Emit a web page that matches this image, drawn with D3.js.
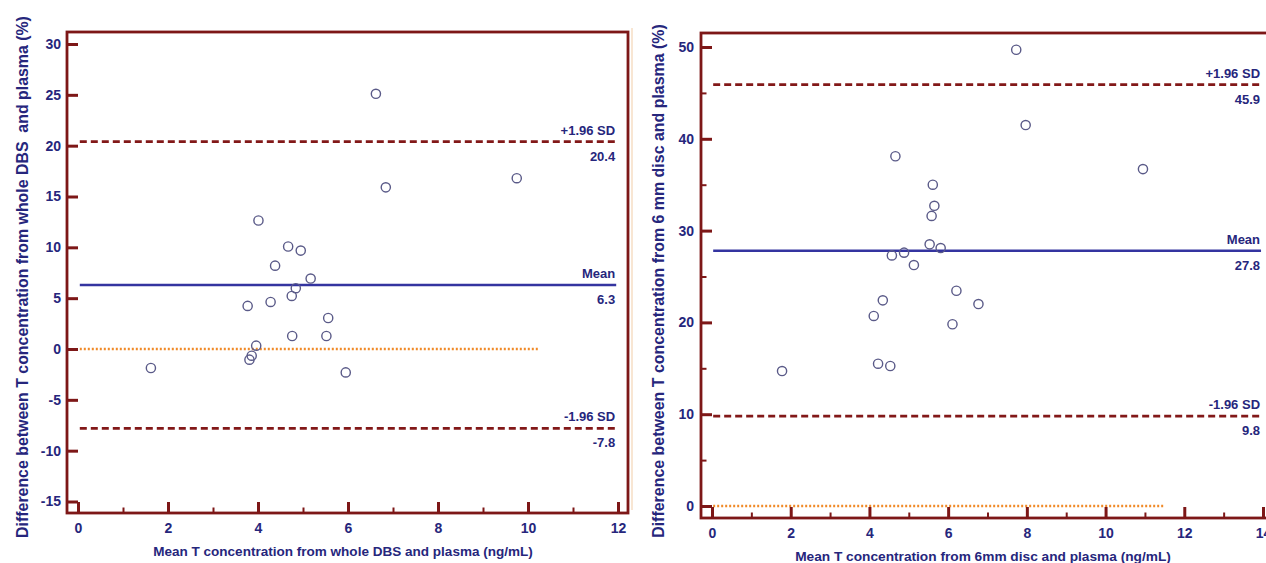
<!DOCTYPE html>
<html>
<head>
<meta charset="utf-8">
<script src="https://cdn.jsdelivr.net/npm/d3@7"></script>
<style>
  html, body { margin: 0; padding: 0; background: #ffffff; }
  svg { display: block; }
  text { font-family: Arial, "Liberation Sans", sans-serif; font-weight: bold; }
</style>
</head>
<body>
<svg id="chart" width="1266" height="563"></svg>
<script>
// Bland–Altman data: whole DBS vs plasma
const dbsMean = [1.62, 3.77, 3.81, 3.86, 3.96, 4.01, 4.28, 4.38, 4.67, 4.75,
                 4.76, 4.84, 4.95, 5.17, 5.56, 5.52, 5.95, 6.62, 6.84, 9.75];
const dbsDiff = [-1.87, 4.24, -1.05, -0.66, 0.33, 12.64, 4.63, 8.2, 10.08, 5.22,
                 1.28, 5.98, 9.68, 6.93, 3.05, 1.28, -2.3, 25.1, 15.9, 16.8];
const dbsStats = { mean: 6.3, upper: 20.4, lower: -7.8 };
const dbsXTicks = [0, 2, 4, 6, 8, 10, 12];
const dbsXMinor = [1, 3, 5, 7, 9, 11];
const dbsYTicks = [-15, -10, -5, 0, 5, 10, 15, 20, 25, 30];
const dbsYMinor = [];

// Bland–Altman data: 6 mm disc vs plasma
const discMean = [1.78, 4.11, 4.34, 4.22, 4.53, 4.66, 4.57, 4.88, 5.13, 5.61,
                  5.65, 5.58, 5.53, 5.81, 6.11, 6.21, 6.77, 7.73, 7.97, 10.95];
const discDiff = [14.7, 20.7, 22.4, 15.5, 15.25, 38.1, 27.3, 27.6, 26.25, 35.0,
                  32.7, 31.6, 28.5, 28.1, 19.8, 23.45, 22.0, 49.7, 41.5, 36.7];
const discStats = { mean: 27.8, upper: 45.9, lower: 9.8 };
const discXTicks = [0, 2, 4, 6, 8, 10, 12, 14];
const discXMinor = [1, 3, 5, 7, 9, 11, 13];
const discYTicks = [0, 10, 20, 30, 40, 50];
const discYMinor = [5, 15, 25, 35, 45];

const COLORS = {
  axis: "#7d1717",
  text: "#26267c",
  mean: "#3434a0",
  limit: "#821818",
  zero: "#f08a28",
  marker: "#5a5a88"
};

const svg = d3.select("#chart");

// faint border left over between the two panels
svg.append("line")
  .attr("x1", 632).attr("x2", 632).attr("y1", 28).attr("y2", 510)
  .attr("stroke", "#f8e6d3").attr("stroke-width", 2);

function fitText(sel, target) {
  const base = parseFloat(sel.style("font-size"));
  const len = sel.node().getComputedTextLength();
  sel.style("font-size", (base * target / len).toFixed(2) + "px");
}

// plain hyphen-minus for negative tick values
const plainFormat = d => String(d);

function drawPanel(p) {
  const g = svg.append("g");
  const x = d3.scaleLinear().domain(p.xDomain).range(p.xRange);
  const y = d3.scaleLinear().domain(p.yDomain).range(p.yRange);

  // reference lines
  const line = (v, x0, x1, color, width, dash) =>
    g.append("line")
      .attr("x1", x(x0)).attr("x2", x(x1))
      .attr("y1", y(v)).attr("y2", y(v))
      .attr("stroke", color).attr("stroke-width", width)
      .attr("stroke-dasharray", dash);

  line(0, p.lineStart, p.zeroEnd, COLORS.zero, 2.5, "2,2");
  line(p.stats.mean, p.lineStart, p.lineEnd, COLORS.mean, 2.5, null);
  line(p.stats.upper, p.lineStart, p.lineEnd, COLORS.limit, 2.7, "7,4");
  line(p.stats.lower, p.lineStart, p.lineEnd, COLORS.limit, 2.7, "7,4");

  // line labels
  const lab = (v, txt, dy) =>
    g.append("text")
      .attr("x", x(p.lineEnd) - 1).attr("y", y(v) + dy)
      .attr("text-anchor", "end")
      .attr("fill", COLORS.text)
      .style("font-size", "13px")
      .text(txt);
  lab(p.stats.upper, "+1.96 SD", -7);
  lab(p.stats.upper, p.stats.upper.toFixed(1), 19);
  lab(p.stats.mean, "Mean", -7);
  lab(p.stats.mean, p.stats.mean.toFixed(1), 19);
  lab(p.stats.lower, "-1.96 SD", -7);
  lab(p.stats.lower, p.stats.lower.toFixed(1), 19);

  // points
  g.append("g").selectAll("circle")
    .data(p.xs.map((d, i) => [d, p.ys[i]]))
    .join("circle")
    .attr("cx", d => x(d[0]))
    .attr("cy", d => y(d[1]))
    .attr("r", 4.6)
    .attr("fill", "none")
    .attr("stroke", COLORS.marker)
    .attr("stroke-width", 1.4);

  // frame
  g.append("rect")
    .attr("x", p.frame.x0).attr("y", p.frame.y0)
    .attr("width", p.frame.x1 - p.frame.x0)
    .attr("height", p.frame.y1 - p.frame.y0)
    .attr("fill", "none")
    .attr("stroke", COLORS.axis)
    .attr("stroke-width", 2.8);

  const styleAxis = (sel, w) => {
    sel.select(".domain").remove();
    sel.selectAll(".tick line").attr("stroke", COLORS.axis).attr("stroke-width", w);
    sel.selectAll(".tick text")
      .attr("fill", COLORS.text)
      .style("font-size", "14px")
      .style("font-family", "Arial, 'Liberation Sans', sans-serif")
      .style("font-weight", "bold");
  };

  // y axis
  g.append("g").attr("transform", `translate(${p.frame.x0},0)`)
    .call(d3.axisLeft(y).tickValues(p.yTicks).tickFormat(plainFormat)
      .tickSize(-11).tickPadding(p.yPad).tickSizeOuter(0))
    .call(s => styleAxis(s, 3));
  if (p.yMinor.length) {
    g.append("g").attr("transform", `translate(${p.frame.x0},0)`)
      .call(d3.axisLeft(y).tickValues(p.yMinor).tickSize(-5.5).tickFormat(() => "").tickSizeOuter(0))
      .call(s => styleAxis(s, 2));
  }

  // x axis
  g.append("g").attr("transform", `translate(0,${p.frame.y1})`)
    .call(d3.axisBottom(x).tickValues(p.xTicks).tickFormat(plainFormat)
      .tickSize(-11).tickPadding(10).tickSizeOuter(0))
    .call(s => styleAxis(s, 3));
  g.append("g").attr("transform", `translate(0,${p.frame.y1})`)
    .call(d3.axisBottom(x).tickValues(p.xMinor).tickSize(-5.5).tickFormat(() => "").tickSizeOuter(0))
    .call(s => styleAxis(s, 2));

  // axis titles
  const xt = g.append("text")
    .attr("x", p.xTitlePos[0]).attr("y", p.xTitlePos[1])
    .attr("text-anchor", "middle")
    .attr("fill", COLORS.text)
    .style("font-size", "13px")
    .text(p.xTitle);
  fitText(xt, p.xTitleLen);

  const yt = g.append("text")
    .attr("transform", `translate(${p.yTitlePos[0]},${p.yTitlePos[1]}) rotate(-90)`)
    .attr("text-anchor", "middle")
    .attr("dy", "0.35em")
    .attr("fill", COLORS.text)
    .style("font-size", "13px")
    .style("white-space", "pre")
    .text(p.yTitle);
  fitText(yt, p.yTitleLen);
}

drawPanel({
  xs: dbsMean, ys: dbsDiff, stats: dbsStats,
  xDomain: [0, 12], xRange: [78, 618],
  yDomain: [-15, 30], yRange: [501.5, 44],
  frame: { x0: 67, x1: 628, y0: 32, y1: 513 },
  xTicks: dbsXTicks, xMinor: dbsXMinor, yTicks: dbsYTicks, yMinor: dbsYMinor,
  yPad: 6,
  lineStart: 0.04, lineEnd: 11.96, zeroEnd: 10.25,
  xTitle: "Mean T concentration from whole DBS and plasma (ng/mL)",
  xTitlePos: [343, 556], xTitleLen: 380,
  yTitle: "Difference between T concentration from whole DBS  and plasma (%)",
  yTitlePos: [22, 277], yTitleLen: 522
});

drawPanel({
  xs: discMean, ys: discDiff, stats: discStats,
  xDomain: [0, 14], xRange: [712, 1263],
  yDomain: [0, 50], yRange: [506, 47],
  frame: { x0: 701, x1: 1275, y0: 33, y1: 518 },
  xTicks: discXTicks, xMinor: discXMinor, yTicks: discYTicks, yMinor: discYMinor,
  yPad: 7,
  lineStart: 0.03, lineEnd: 13.95, zeroEnd: 11.5,
  xTitle: "Mean T concentration from 6mm disc and plasma (ng/mL)",
  xTitlePos: [983, 561], xTitleLen: 376,
  yTitle: "Difference between T concentration from 6 mm disc and plasma (%)",
  yTitlePos: [658, 281], yTitleLen: 514
});
</script>
</body>
</html>
